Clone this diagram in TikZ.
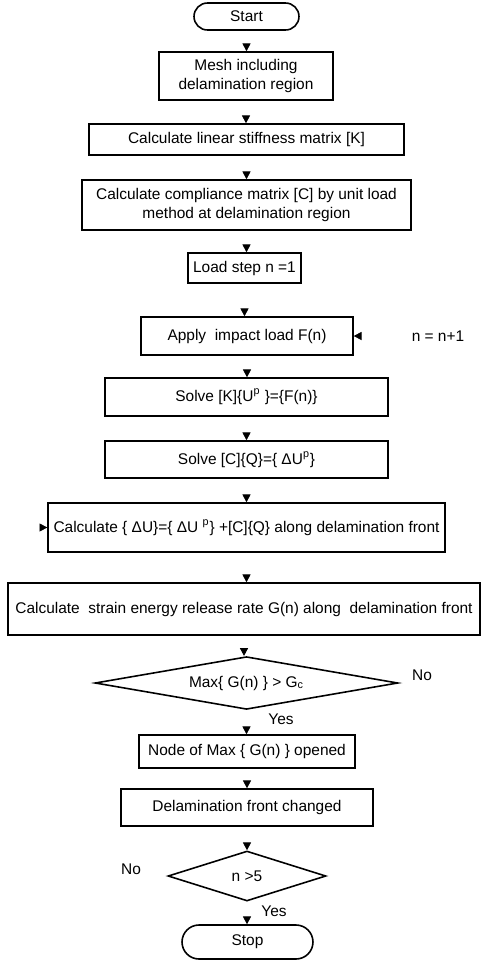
\documentclass[tikz,border=0pt]{standalone}
\usepackage{fontspec}
\setmainfont{Liberation Sans}
\usetikzlibrary{shapes.geometric,arrows.meta}

\tikzset{
  box/.style={draw,line width=.9pt,inner sep=1pt,align=center},
  term/.style={box,rounded corners=#1},
  decision/.style={draw,diamond,aspect=3,inner sep=0pt,line width=.9pt},
  flow/.style={draw=white,-{Triangle[color=black,width=4.6pt,length=4.4pt]}},
  lbl/.style={inner sep=0pt},
}

\begin{document}
\begin{tikzpicture}[x=0.02cm,y=-0.02cm,font=\fontsize{8.8}{10.6}\selectfont]
\useasboundingbox (0,0) rectangle (482,961);

\node[term=.27cm,minimum width=2.1cm,minimum height=.54cm] (start) at (246.5,16.5) {Start};
\node[box,minimum width=3.48cm,minimum height=.96cm] (mesh) at (246,76) {Mesh including\\delamination region};
\node[box,minimum width=6.3cm,minimum height=.62cm] (lin) at (246.5,139.5) {Calculate linear stiffness matrix [K]};
\node[box,minimum width=6.58cm,minimum height=1cm] (comp) at (246.5,205) {Calculate compliance matrix [C] by unit load\\method at delamination region};
\node[box,minimum width=2.26cm,minimum height=.6cm] (load) at (244.5,268) {Load step n =1};
\node[box,minimum width=4.24cm,minimum height=.76cm] (apply) at (247,336) {Apply\ \ impact load F(n)};
\node[box,minimum width=5.66cm,minimum height=.76cm] (solveK) at (246.5,397) {Solve [K]\{U\textsuperscript{p} \}=\{F(n)\}};
\node[box,minimum width=5.66cm,minimum height=.74cm] (solveC) at (246.5,459.5) {Solve [C]\{Q\}=\{ ΔU\textsuperscript{p}\}};
\node[box,minimum width=7.94cm,minimum height=.98cm] (dU) at (246.5,527.5) {Calculate \{ ΔU\}=\{ ΔU \textsuperscript{p}\} +[C]\{Q\} along delamination front};
\node[box,minimum width=9.44cm,minimum height=1.04cm] (serr) at (244,609) {Calculate\ \ strain energy release rate G(n) along\ \ delamination front};
\node[decision,minimum width=6.06cm,minimum height=.98cm] (maxG) at (246.5,683) {Max\{ G(n) \} > G\textsubscript{c}};
\node[box,minimum width=4.32cm,minimum height=.66cm] (open) at (247,751.5) {Node of Max \{ G(n) \} opened};
\node[box,minimum width=5.04cm,minimum height=.74cm] (front) at (247,807.5) {Delamination front changed};
\node[decision,minimum width=3.16cm,minimum height=1cm] (nmax) at (247,876) {n >5};
\node[term=.34cm,minimum width=2.62cm,minimum height=.68cm] (stop) at (247.5,942) {Stop};

% labels
\node[lbl] (inc) at (438,336) {n = n+1};
\node[lbl] (no1) at (422,675) {No};
\node[lbl] (yes1) at (281,719) {Yes};
\node[lbl] (no2) at (131,869) {No};
\node[lbl] (yes2) at (274,911) {Yes};
\coordinate (back) at (30,527.5);

% arrows
\foreach \a/\b in {start/mesh,mesh/lin,lin/comp,comp/load,load/apply,apply/solveK,
  solveK/solveC,solveC/dU,dU/serr,serr/maxG,maxG/open,open/front,front/nmax,nmax/stop}
  \draw[flow] (\a.south) -- (\a.south |- \b.north);
\draw[flow] (inc) -- (apply.east);
\draw[flow] (back) -- (dU.west);
\end{tikzpicture}
\end{document}
